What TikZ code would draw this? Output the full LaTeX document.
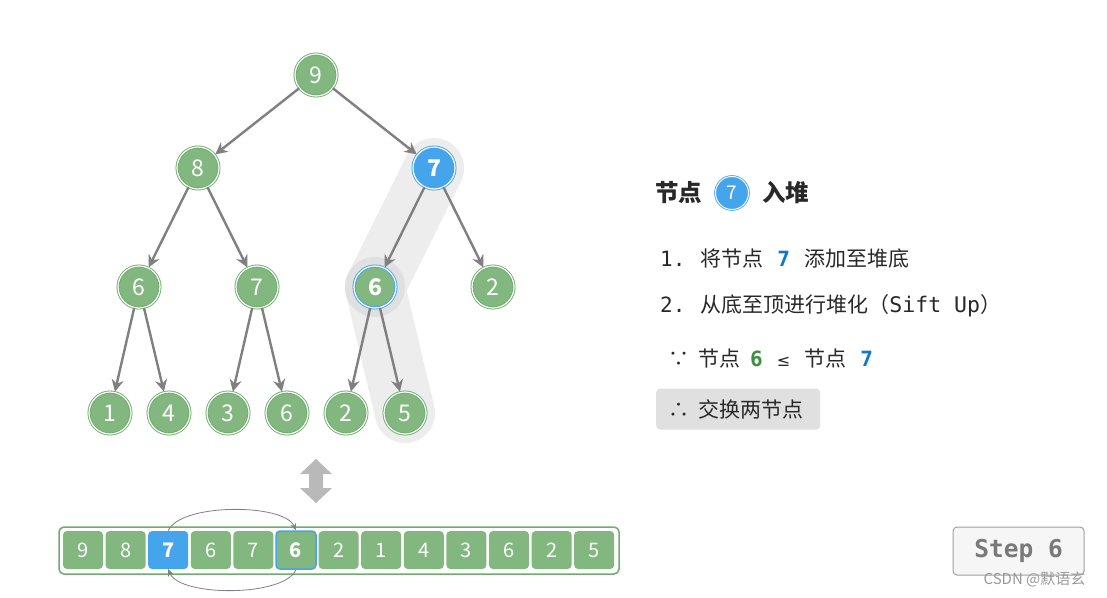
\documentclass[tikz,border=0pt]{standalone}
\usepackage{fontspec}
\setmainfont{Noto Sans CJK SC}
\newfontfamily\monof{DejaVu Sans Mono}
\newfontfamily\djv{DejaVu Sans}
\usetikzlibrary{arrows.meta}
\definecolor{hgreen}{RGB}{130,184,127}
\definecolor{hgreenb}{RGB}{112,172,109}
\definecolor{hblue}{RGB}{68,164,236}
\definecolor{hbluet}{RGB}{16,120,208}
\definecolor{hgreent}{RGB}{62,143,64}
\definecolor{edgegray}{RGB}{128,128,128}
\definecolor{bandgray}{RGB}{237,237,237}
\definecolor{ringgray}{RGB}{224,224,224}
\definecolor{txt}{RGB}{40,40,40}
\tikzset{
  tn/.style={circle, fill=hgreen, draw=hgreenb, double=white, double distance=1.2pt, line width=0.9pt,
    minimum size=42pt, inner sep=0pt, text=white, font=\fontsize{23}{23}\selectfont},
  bn/.style={tn, fill=hblue, draw=hblue, font=\fontsize{23}{23}\selectfont\bfseries},
  gbn/.style={tn, draw=hblue, font=\fontsize{23}{23}\selectfont\bfseries},
  edge/.style={draw=edgegray, line width=2.4pt, -{Stealth[length=12pt,width=12pt,inset=4pt]}, shorten >=0.5pt},
  cell/.style={rectangle, rounded corners=4pt, fill=hgreen, minimum width=40pt, minimum height=38pt,
    inner sep=0pt, text=white, font=\fontsize{20}{20}\selectfont},
  bcell/.style={cell, fill=hblue, font=\fontsize{20}{20}\selectfont\bfseries},
  gbcell/.style={cell, draw=hblue, line width=1.5pt, font=\fontsize{20}{20}\selectfont\bfseries},
  rtext/.style={anchor=west, inner sep=0pt, text=txt, font=\fontsize{21}{21}\selectfont},
  swap/.style={draw=edgegray, line width=0.8pt, -{Stealth[length=7pt,width=6pt]}},
}
\begin{document}
\begin{tikzpicture}[x=1pt,y=-1pt]
\useasboundingbox (0,0) rectangle (1107,597);
\fill[white] (0,0) rectangle (1107,597);
% highlight band
\coordinate (b7) at (434,168);
\coordinate (b6) at (375,287);
\coordinate (b5) at (405,413);
\draw[bandgray, line width=60pt, line cap=round, line join=round] (b7) -- (b6) -- (b5);
\fill[ringgray] (b6) circle (30pt);
% tree nodes
\node[tn] (n9) at (316,75) {9};
\node[tn] (n8) at (198,168) {8};
\node[bn] (n7) at (434,168) {7};
\node[tn] (m6) at (139,287) {6};
\node[tn] (m7) at (257,287) {7};
\node[gbn] (m6b) at (375,287) {6};
\node[tn] (m2) at (493,287) {2};
\node[tn] (l1) at (110,413) {1};
\node[tn] (l4) at (169,413) {4};
\node[tn] (l3) at (228,413) {3};
\node[tn] (l6) at (287,413) {6};
\node[tn] (l2) at (346,413) {2};
\node[tn] (l5) at (405,413) {5};
% edges
\draw[edge] (n9) -- (n8);
\draw[edge] (n9) -- (n7);
\draw[edge] (n8) -- (m6);
\draw[edge] (n8) -- (m7);
\draw[edge] (n7) -- (m6b);
\draw[edge] (n7) -- (m2);
\draw[edge] (m6) -- (l1);
\draw[edge] (m6) -- (l4);
\draw[edge] (m7) -- (l3);
\draw[edge] (m7) -- (l6);
\draw[edge] (m6b) -- (l2);
\draw[edge] (m6b) -- (l5);
% right text
\node[rtext, font=\fontsize{23.5}{23.5}\selectfont\bfseries] (t1) at (655,193) {节点};
\node[circle, fill=hblue, draw=hblue, double=white, double distance=1pt, line width=0.8pt,
  minimum size=33pt, inner sep=0pt, text=white, font=\fontsize{19}{19}\selectfont] (tc) at (732,193) {7};
\node[rtext, font=\fontsize{23.5}{23.5}\selectfont\bfseries] (t2) at (762,193) {入堆};
\node[rtext] (s1) at (660,259) {{\monof 1.}\hspace{15pt}将节点\hspace{14pt}{\monof\bfseries\color{hbluet}7}\hspace{14pt}添加至堆底};
\node[rtext] (s2) at (660,306) {{\monof 2.}\hspace{15pt}从底至顶进行堆化（{\monof\fontsize{21.5}{21.5}\selectfont Sift Up}）};
\node[rtext] (s3) at (668,359) {∵\hspace{9pt}节点\hspace{10pt}{\monof\bfseries\color{hgreent}6}\hspace{14pt}{\djv\fontsize{16}{16}\selectfont ≤}\hspace{14pt}节点\hspace{14pt}{\monof\bfseries\color{hbluet}7}};
\node[anchor=west, fill=ringgray, rounded corners=4pt, minimum width=164pt, minimum height=41pt,
  inner xsep=12pt, text width=140pt, align=left, text=txt, font=\fontsize{21}{21}\selectfont] (s4) at (656,409)
  {∴\hspace{9pt}交换两节点};
% up-down arrow
\fill[gray!55] (316,459) -- (332,474) -- (323,474) -- (323,488) -- (332,488) -- (316,503)
  -- (300,488) -- (309,488) -- (309,474) -- (300,474) -- cycle;
% array
\node[draw=hgreenb, line width=1.5pt, rounded corners=5pt, minimum width=560pt, minimum height=47pt] (arr) at (339,550.5) {};
\node[cell] (c0) at (83,550) {9};
\node[cell] (c1) at (125.6,550) {8};
\node[bcell] (c2) at (168.2,550) {7};
\node[cell] (c3) at (210.8,550) {6};
\node[cell] (c4) at (253.4,550) {7};
\node[gbcell] (c5) at (296,550) {6};
\node[cell] (c6) at (338.6,550) {2};
\node[cell] (c7) at (381.2,550) {1};
\node[cell] (c8) at (423.8,550) {4};
\node[cell] (c9) at (466.4,550) {3};
\node[cell] (c10) at (509,550) {6};
\node[cell] (c11) at (551.6,550) {2};
\node[cell] (c12) at (594.2,550) {5};
\draw[swap] (c2.north) .. controls (180,503) and (284,503) .. (c5.north);
\draw[swap] (c5.south) .. controls (284,597) and (180,597) .. (c2.south);
% step box
\node[fill=gray!7, draw=gray!75, line width=1pt, rounded corners=4pt, minimum width=131pt, minimum height=48pt,
  text=gray!95!black, font=\monof\bfseries\fontsize{24.5}{24.5}\selectfont] (step) at (1018.5,551) {Step 6};
\node[text=gray!80, inner sep=0pt, font=\fontsize{15}{15}\selectfont] (wm) at (1034.5,579) {CSDN @默语玄};
\end{tikzpicture}
\end{document}
